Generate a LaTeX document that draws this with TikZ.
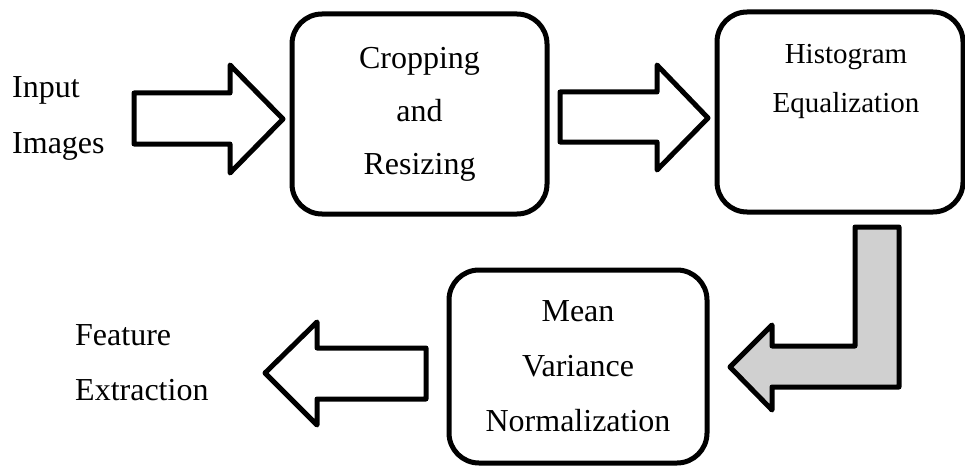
\documentclass[tikz,border=0pt]{standalone}
\usepackage{fontspec}
\setmainfont{Liberation Serif}
\usepackage{xcolor}
\usepackage{tikz}
\definecolor{cBent}{RGB}{208,208,208}
\tikzset{
  stage/.style={draw,line width=5pt,rounded corners=30pt,inner sep=0pt,
                align=center,font=\fontsize{32}{53}\selectfont},
  caption/.style={inner sep=0pt,align=left,font=\fontsize{32}{56}\selectfont},
  blockarrow/.style={draw,line width=5pt,line join=round,fill=white},
  bentarrow/.style={blockarrow,fill=cBent},
}

\begin{document}
\begin{tikzpicture}[x=1pt,y=-1pt]
  \useasboundingbox (0,0) rectangle (965,468);
  % top row
  \node[caption,anchor=west] (input) at (12,118) {Input\\Images};
  \node[stage,minimum width=255pt,minimum height=200pt] (crop) at (419.5,114)
       {Cropping\\and\\Resizing};
  \node[stage,minimum width=246pt,minimum height=200pt] (histeq) at (840,112) {};
  \node[inner sep=0pt,align=center,font=\fontsize{29}{49}\selectfont] (histtxt)
       at (846,81) {Histogram\\Equalization};
  % bottom row
  \node[stage,minimum width=258pt,minimum height=193pt,
        font=\fontsize{32}{55}\selectfont] (mvn) at (578,366.5)
       {Mean\\Variance\\Normalization};
  \node[caption,anchor=west,font=\fontsize{32}{55}\selectfont] (feat) at (75,363)
       {Feature\\Extraction};

  % block arrows
  \draw[blockarrow] (134,93) -- (230,93) -- (230,65) -- (283,119)
    -- (230,173) -- (230,144) -- (134,144) -- cycle;
  \draw[blockarrow] (560,92) -- (657,92) -- (657,65) -- (708,118)
    -- (657,170) -- (657,142) -- (560,142) -- cycle;
  \draw[bentarrow] (855,227) -- (899,227) -- (899,387) -- (772,387)
    -- (772,410) -- (730,367) -- (772,325) -- (772,346) -- (855,346) -- cycle;
  \draw[blockarrow] (426,348) -- (317,348) -- (317,322) -- (265,373)
    -- (317,425) -- (317,399) -- (426,399) -- cycle;
\end{tikzpicture}
\end{document}
